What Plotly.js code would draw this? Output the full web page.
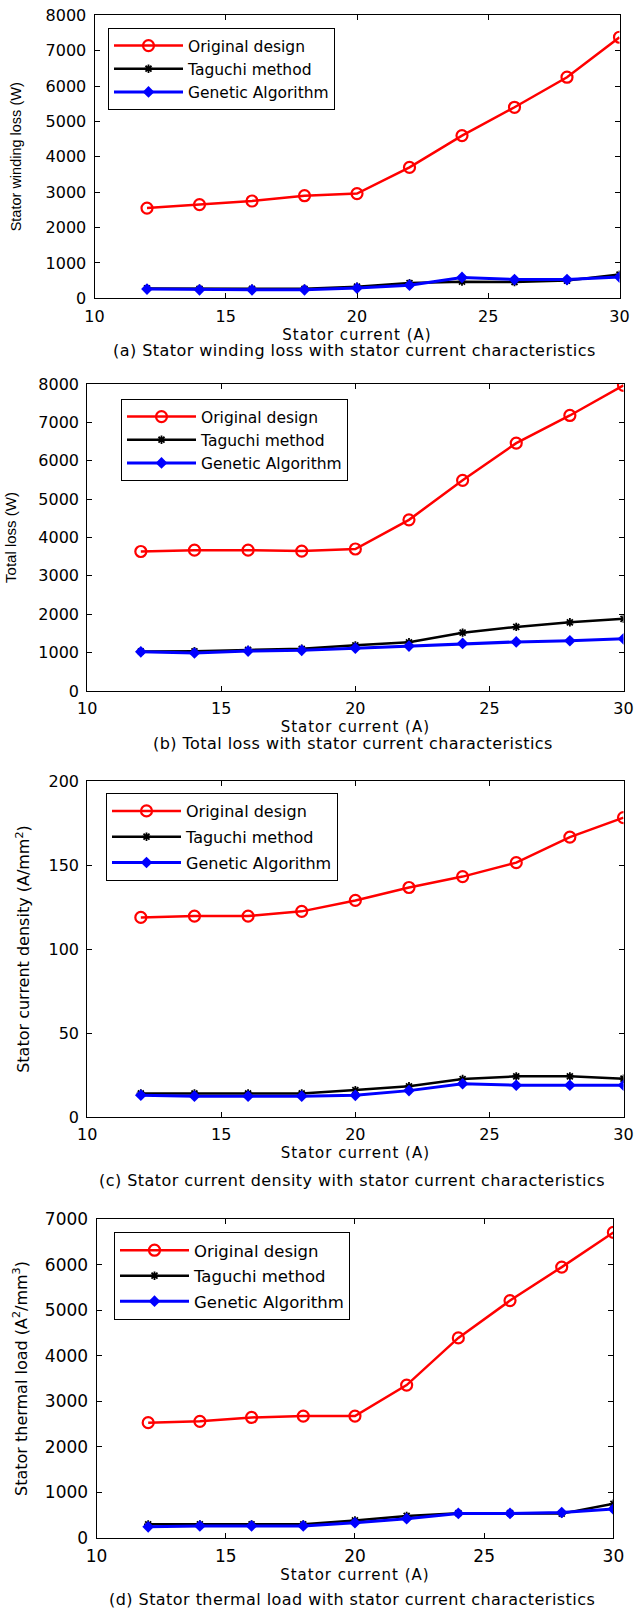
<!DOCTYPE html>
<html>
<head>
<meta charset="utf-8">
<script src="https://cdn.plot.ly/plotly-3.0.1.min.js"></script>
<style>
  html, body { margin: 0; padding: 0; background: #ffffff; }
  #chart { width: 636px; height: 1611px; }
  text.xtitle, text.x2title, text.x3title, text.x4title { letter-spacing: 1px; }
  text.annotation-text { letter-spacing: 0.45px; }
</style>
</head>
<body>
<div id="chart"></div>
<script>
// ---------------- data ----------------
const statorCurrent = [12, 14, 16, 18, 20, 22, 24, 26, 28, 30];
const seriesNames = ['Original design', 'Taguchi method', 'Genetic Algorithm'];

// (a) Stator winding loss (W)
const windingOriginal = [2550, 2650, 2750, 2900, 2960, 3700, 4600, 5400, 6250, 7380];
const windingTaguchi  = [280, 270, 270, 270, 330, 430, 470, 460, 500, 670];
const windingGA       = [260, 240, 240, 240, 290, 370, 590, 530, 530, 600];

// (b) Total loss (W)
const totalOriginal = [3635, 3670, 3670, 3645, 3700, 4460, 5490, 6460, 7180, 7965];
const totalTaguchi  = [1030, 1035, 1070, 1100, 1190, 1270, 1520, 1670, 1790, 1880];
const totalGA       = [1020, 990, 1040, 1060, 1115, 1170, 1240, 1280, 1310, 1360];

// (c) Stator current density (A/mm^2)
const densityOriginal = [118.8, 119.6, 119.6, 122.4, 128.9, 136.6, 143.1, 151.4, 166.6, 178.2];
const densityTaguchi  = [14, 14, 14, 14, 16, 18.3, 22.6, 24.2, 24.2, 22.8];
const densityGA       = [13, 12.4, 12.4, 12.4, 12.9, 15.7, 19.8, 18.9, 18.9, 18.9];

// (d) Stator thermal load (A^2/mm^3)
const thermalOriginal = [2530, 2560, 2645, 2675, 2675, 3355, 4390, 5210, 5945, 6705];
const thermalTaguchi  = [300, 300, 300, 300, 385, 485, 545, 545, 535, 750];
const thermalGA       = [245, 265, 265, 265, 335, 425, 540, 540, 560, 635];

const xTitle = 'Stator current (A)';
const yTitles = [
  'Stator winding loss (W)',
  'Total loss (W)',
  'Stator current density (A/mm<sup>2</sup>)',
  'Stator thermal load (A<sup>2</sup>/mm<sup>3</sup>)'
];
const captions = [
  '(a) Stator winding loss with stator current characteristics',
  '(b) Total loss with stator current characteristics',
  '(c) Stator current density with stator current characteristics',
  '(d) Stator thermal load with stator current characteristics'
];
const yRanges = [[0, 8000], [0, 8000], [0, 200], [0, 7000]];
const yDticks = [1000, 1000, 50, 1000];

const panelData = [
  [windingOriginal, windingTaguchi, windingGA],
  [totalOriginal, totalTaguchi, totalGA],
  [densityOriginal, densityTaguchi, densityGA],
  [thermalOriginal, thermalTaguchi, thermalGA]
];

// ---------------- layout geometry (pixels) ----------------
const W = 636, H = 1611;
const boxes = [ // left, right, top, bottom
  [94.5, 619.5, 15.3, 298.3],
  [87.2, 623.5, 384, 691],
  [87.2, 623.5, 781, 1117],
  [96.5, 613.4, 1219, 1538]
];
const legendPos = [[108, 28], [121, 399], [106, 793], [114, 1232]];
const captionPos = [[354, 351], [353, 743], [352, 1180], [352, 1599]];
const tickSize = [16, 16, 16, 17];
const legendFont = [15.5, 15.5, 16, 16.5];
const legendGap = [0, 0, 2, 1];
const yTitleFont = [
  {family: 'Liberation Sans, Arial, sans-serif', size: 14.5, color: '#000'},
  {family: 'Liberation Sans, Arial, sans-serif', size: 15, color: '#000'},
  {family: 'DejaVu Sans, sans-serif', size: 16, color: '#000'},
  {family: 'DejaVu Sans, sans-serif', size: 16, color: '#000'}
];
const yStandoff = [20, 18, 14, 13];

const styles = [
  {line: {color: '#ff0000', width: 2.5},
   marker: {symbol: 'circle-open', size: 11, color: '#ff0000', line: {color: '#ff0000', width: 2.2}}},
  {line: {color: '#000000', width: 2.5},
   marker: {symbol: 'asterisk-open', size: 7, color: '#000000', line: {color: '#000000', width: 1.8}}},
  {line: {color: '#0000ff', width: 3},
   marker: {symbol: 'diamond', size: 9, color: '#0000ff', line: {color: '#0000ff', width: 0}}}
];

const FONT = 'DejaVu Sans, sans-serif';
const traces = [];
const layout = {
  width: W, height: H,
  margin: {l: 0, r: 0, t: 0, b: 0},
  paper_bgcolor: '#ffffff', plot_bgcolor: '#ffffff',
  font: {family: FONT, size: 16, color: '#000'},
  showlegend: true,
  annotations: []
};

for (let p = 0; p < 4; p++) {
  const sfx = p === 0 ? '' : String(p + 1);
  const [l, r, t, b] = boxes[p];
  const legKey = 'legend' + sfx;
  for (let s = 0; s < 3; s++) {
    traces.push({
      type: 'scatter', mode: 'lines+markers',
      x: statorCurrent, y: panelData[p][s],
      name: seriesNames[s],
      xaxis: 'x' + sfx, yaxis: 'y' + sfx,
      legend: legKey,
      legendgroup: 'p' + p + 's' + s,
      line: styles[s].line, marker: styles[s].marker,
      hoverinfo: 'skip'
    });
  }
  const common = {
    ticks: 'inside', ticklen: 5, tickwidth: 1, tickcolor: '#000',
    mirror: 'ticks', showline: true, linecolor: '#000', linewidth: 1,
    showgrid: false, zeroline: false, fixedrange: true,
    tickfont: {family: FONT, size: tickSize[p], color: '#000'}
  };
  layout['xaxis' + sfx] = Object.assign({}, common, {
    domain: [l / W, r / W], anchor: 'y' + sfx,
    range: [10, 30], tick0: 10, dtick: 5,
    ticklabelstandoff: 3,
    title: {text: xTitle, font: {family: FONT, size: 15, color: '#000'}, standoff: 4}
  });
  layout['yaxis' + sfx] = Object.assign({}, common, {
    domain: [1 - b / H, 1 - t / H], anchor: 'x' + sfx,
    range: yRanges[p], tick0: 0, dtick: yDticks[p],
    ticklabelstandoff: 4,
    title: {text: yTitles[p], font: yTitleFont[p], standoff: yStandoff[p]}
  });
  layout[legKey] = {
    x: legendPos[p][0] / W, y: 1 - legendPos[p][1] / H,
    xanchor: 'left', yanchor: 'top',
    bgcolor: '#ffffff', bordercolor: '#000', borderwidth: 1,
    font: {family: FONT, size: legendFont[p], color: '#000'},
    itemwidth: 69, traceorder: 'grouped', tracegroupgap: legendGap[p]
  };
  layout.annotations.push({
    xref: 'paper', yref: 'paper',
    x: captionPos[p][0] / W, y: 1 - captionPos[p][1] / H,
    xanchor: 'center', yanchor: 'middle',
    text: captions[p], showarrow: false,
    font: {family: FONT, size: 16, color: '#000'}
  });
}

Plotly.newPlot('chart', traces, layout, {displayModeBar: false, staticPlot: true});
</script>
</body>
</html>
